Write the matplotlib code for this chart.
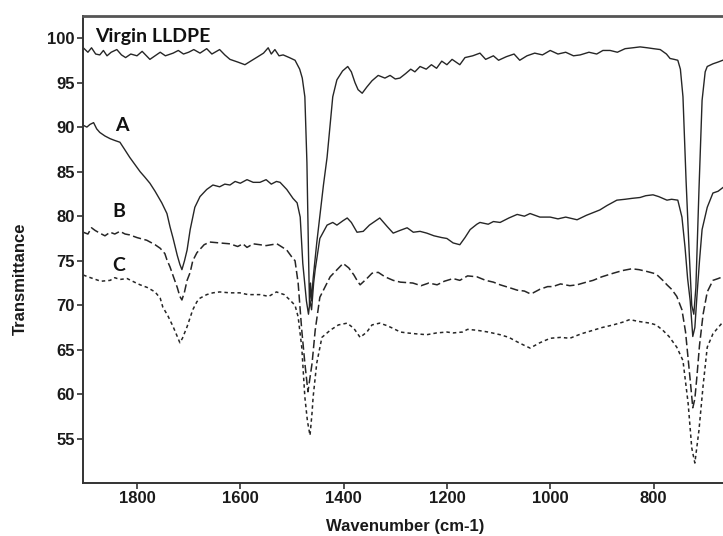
import matplotlib
matplotlib.use('Agg')
import matplotlib.pyplot as plt

# wavenumbers (cm-1) and transmittance
virgin_wn = [1904, 1895, 1888, 1880, 1872, 1865, 1858, 1850, 1839, 1830, 1822, 1812, 1800, 1790,
             1775, 1765, 1755, 1745, 1730, 1720, 1710, 1700, 1690, 1678, 1665, 1655, 1640, 1630,
             1620, 1605, 1591, 1580, 1566, 1555, 1546, 1540, 1533, 1525, 1517, 1505, 1494, 1485,
             1480, 1475, 1471, 1468, 1466, 1464, 1462, 1459, 1452, 1446, 1439, 1432, 1421, 1413,
             1402, 1392, 1385, 1378, 1372, 1364, 1355, 1345, 1333, 1320, 1310, 1300, 1291, 1280,
             1270, 1262, 1252, 1240, 1230, 1220, 1210, 1200, 1190, 1175, 1165, 1150, 1136, 1125,
             1110, 1100, 1085, 1070, 1059, 1045, 1030, 1015, 1000, 985, 970, 955, 942, 925, 910,
             898, 884, 870, 855, 840, 826, 812, 800, 787, 775, 768, 760, 753, 748, 743, 737, 731,
             726, 722, 718, 712, 706, 700, 696, 685, 675, 666]
virgin_t = [98.9, 98.4, 98.9, 98.2, 98.1, 98.6, 98.0, 98.4, 98.7, 98.1, 97.8, 98.2, 98.0, 98.5,
            97.6, 98.0, 98.4, 98.0, 98.3, 98.6, 98.2, 98.4, 98.7, 98.3, 98.8, 98.2, 98.7, 98.1,
            97.6, 97.3, 97.0, 97.4, 97.9, 98.3, 98.9, 98.2, 98.7, 98.0, 98.1, 97.8, 97.5, 96.5,
            95.5, 93.4, 86.0, 76.0, 70.0, 72.5, 70.5, 73.0, 77.0, 80.0, 83.5, 86.6, 93.4, 95.3,
            96.3, 96.8, 96.2, 95.0, 94.2, 93.8, 94.5, 95.2, 95.8, 95.5, 95.8, 95.4, 95.5, 96.0,
            96.5, 96.2, 96.8, 96.5, 97.0, 96.6, 97.4, 97.0, 97.6, 97.0, 97.8, 98.0, 98.3, 97.6,
            98.0, 97.5, 97.9, 98.2, 97.5, 98.0, 98.3, 98.1, 98.6, 98.2, 98.4, 98.0, 98.1, 98.4, 98.2,
            98.6, 98.6, 98.4, 98.8, 98.9, 99.0, 98.9, 98.8, 98.7, 98.2, 97.7, 97.6, 97.5, 96.5, 93.4,
            84.0, 76.0, 70.0, 69.0, 72.0, 83.0, 93.0, 96.2, 96.8, 97.1, 97.3, 97.5]

a_wn = [1904, 1897, 1891, 1884, 1878, 1872, 1862, 1852, 1843, 1833, 1824, 1814, 1804, 1794, 1785,
        1775, 1765, 1752, 1742, 1736, 1730, 1722, 1717, 1713, 1708, 1703, 1697, 1688, 1678, 1665,
        1653, 1640, 1630, 1620, 1610, 1600, 1587, 1575, 1562, 1550, 1540, 1530, 1523, 1510, 1498,
        1490, 1484, 1479, 1472, 1468, 1465, 1462, 1458, 1455, 1446, 1432, 1421, 1413, 1401, 1393,
        1385, 1374, 1362, 1350, 1340, 1330, 1315, 1304, 1291, 1277, 1265, 1252, 1239, 1225, 1210,
        1200, 1188, 1175, 1165, 1155, 1142, 1136, 1120, 1110, 1097, 1080, 1064, 1050, 1039, 1020,
        1000, 985, 970, 948, 930, 917, 904, 890, 871, 855, 842, 826, 815, 801, 790, 774, 765, 753,
        745, 739, 734, 729, 724, 720, 716, 711, 706, 696, 685, 675, 666]
a_t = [90.2, 90.0, 90.3, 90.5, 89.8, 89.4, 89.0, 88.7, 88.5, 88.3, 87.5, 86.6, 85.8, 85.0, 84.4,
       83.7, 82.8, 81.5, 80.3, 78.8, 77.5, 75.6, 74.6, 74.0, 75.0, 76.2, 78.5, 81.0, 82.2, 83.0,
       83.5, 83.3, 83.6, 83.5, 83.9, 83.7, 84.1, 83.8, 83.8, 84.1, 83.6, 83.9, 83.8, 83.0, 82.0,
       81.5, 79.9, 74.7, 70.5, 69.0, 70.5, 69.5, 72.5, 74.0, 77.5, 79.0, 79.3, 79.0, 79.5, 79.8,
       79.3, 78.2, 78.3, 79.0, 79.4, 79.8, 78.8, 78.1, 78.4, 78.7, 78.2, 78.3, 78.1, 77.8, 77.6,
       77.5, 77.0, 76.8, 77.6, 78.5, 79.1, 79.3, 79.1, 79.4, 79.3, 79.8, 80.2, 80.0, 80.3, 79.9,
       79.9, 79.7, 79.9, 79.6, 80.1, 80.4, 80.7, 81.2, 81.8, 81.9, 82.0, 82.1, 82.3, 82.4, 82.2,
       81.8, 81.9, 81.8, 79.9, 76.5, 73.0, 70.5, 66.5, 67.5, 71.0, 75.0, 78.5, 81.0, 82.6, 82.8,
       83.2]

b_wn = [1904, 1895, 1888, 1881, 1872, 1862, 1852, 1843, 1833, 1823, 1814, 1800, 1781, 1765, 1755,
        1746, 1742, 1736, 1730, 1722, 1717, 1713, 1708, 1703, 1697, 1692, 1684, 1670, 1659, 1640,
        1620, 1605, 1595, 1587, 1575, 1562, 1550, 1529, 1510, 1500, 1494, 1488, 1481, 1475, 1469,
        1461, 1455, 1446, 1426, 1401, 1390, 1380, 1374, 1368, 1355, 1345, 1333, 1320, 1304, 1290,
        1266, 1250, 1235, 1219, 1205, 1188, 1175, 1160, 1142, 1125, 1110, 1097, 1080, 1064, 1050,
        1039, 1033, 1020, 1005, 995, 980, 962, 948, 930, 917, 900, 878, 860, 842, 828, 813, 800,
        793, 782, 774, 765, 755, 745, 738, 733, 728, 724, 720, 716, 711, 704, 696, 685, 675, 666]
b_t = [78.2, 78.0, 78.7, 78.4, 78.1, 77.8, 78.2, 78.0, 78.3, 78.0, 77.9, 77.6, 77.3, 76.8, 76.4,
       75.8, 75.1, 74.3, 73.3, 72.0, 71.0, 70.6, 71.5, 72.8, 73.7, 75.0, 75.9, 76.8, 77.1, 77.0,
       76.9, 76.6, 76.9, 76.5, 76.9, 76.8, 76.7, 76.9, 76.2, 75.4, 75.0, 72.5, 67.2, 63.5, 60.3,
       63.5, 67.2, 70.9, 73.2, 74.7, 74.2, 73.4, 72.8, 72.3, 73.0, 73.6, 73.7, 73.2, 72.8, 72.6,
       72.5, 72.2, 72.5, 72.3, 72.7, 73.0, 72.8, 73.3, 73.2, 72.8, 72.6, 72.3, 72.0, 71.7, 71.6,
       71.3, 71.4, 71.8, 72.1, 72.1, 72.4, 72.2, 72.3, 72.6, 72.8, 73.2, 73.6, 73.9, 74.1, 74.0,
       73.8, 73.6, 73.4, 72.8, 72.3, 71.8, 71.0, 69.5, 67.0, 64.0, 61.0, 58.5, 59.5, 62.0, 65.5,
       69.0, 71.5, 72.8, 73.0, 73.2]

c_wn = [1904, 1895, 1885, 1870, 1852, 1843, 1833, 1819, 1805, 1794, 1780, 1765, 1755, 1750, 1740,
        1730, 1722, 1717, 1712, 1703, 1692, 1684, 1678, 1665, 1653, 1640, 1620, 1601, 1585, 1562,
        1545, 1530, 1515, 1504, 1494, 1488, 1481, 1475, 1470, 1465, 1461, 1459, 1452, 1442, 1426,
        1410, 1393, 1380, 1368, 1355, 1345, 1330, 1315, 1304, 1290, 1277, 1260, 1239, 1220, 1200,
        1188, 1170, 1160, 1142, 1120, 1097, 1080, 1064, 1050, 1039, 1020, 1000, 980, 962, 940, 917,
        900, 878, 860, 846, 830, 807, 795, 782, 770, 755, 743, 733, 726, 720, 712, 704, 696, 685,
        675, 666]
c_t = [73.4, 73.2, 73.0, 72.7, 72.8, 73.1, 72.9, 73.0, 72.6, 72.3, 72.0, 71.5, 70.8, 69.8, 68.8,
       67.6, 66.5, 65.8, 66.3, 67.6, 69.5, 70.4, 70.8, 71.2, 71.4, 71.5, 71.4, 71.4, 71.2, 71.2,
       71.0, 71.5, 71.2, 70.6, 70.0, 68.7, 65.3, 59.7, 57.0, 55.4, 58.0, 59.7, 63.5, 66.4, 67.2,
       67.8, 68.0, 67.4, 66.4, 67.0, 67.8, 68.0, 67.7, 67.4, 67.0, 66.9, 66.8, 66.7, 66.9, 67.0,
       66.9, 67.0, 67.3, 67.2, 67.0, 66.7, 66.4, 65.9, 65.5, 65.2, 65.8, 66.3, 66.4, 66.3, 66.8, 67.2,
       67.5, 67.8, 68.1, 68.4, 68.2, 68.0, 67.8, 67.2, 66.5, 65.3, 63.8, 59.0, 54.0, 52.3, 56.0, 61.0,
       65.3, 66.8, 67.5, 68.1]

x_ticks = [1800, 1600, 1400, 1200, 1000, 800]
y_ticks = [55, 60, 65, 70, 75, 80, 85, 90, 95, 100]

plt.rcParams['lines.scale_dashes'] = False
plt.rcParams['font.family'] = ['Liberation Sans', 'DejaVu Sans']

fig = plt.figure(figsize=(7.23, 5.36), dpi=100)
ax = fig.add_axes([0.1148, 0.0989, 0.8852, 0.8713])

ax.plot(virgin_wn, virgin_t, color='#262626', lw=1.0)
ax.plot(a_wn, a_t, color='#262626', lw=1.0)
ax.plot(b_wn, b_t, color='#262626', lw=1.1, dashes=(6, 2.5))
ax.plot(c_wn, c_t, color='#262626', lw=1.1, dashes=(2.5, 2.2))

ax.set_xlim(1904.5, 665.5)
ax.set_ylim(50.06, 102.47)
ax.set_xticks(x_ticks)
ax.set_yticks(y_ticks)
ax.tick_params(labelsize=12, width=1.2, length=4, color='#333333', pad=2)
for lab in ax.get_xticklabels() + ax.get_yticklabels():
    lab.set_fontweight('bold')
    lab.set_color('#1a1a1a')

ax.spines['right'].set_visible(False)
for s in ['left', 'bottom']:
    ax.spines[s].set_linewidth(1.4)
    ax.spines[s].set_color('#333333')
ax.spines['top'].set_linewidth(2.0)
ax.spines['top'].set_color('#555555')

lab_font = dict(family=['Lato', 'DejaVu Sans'], fontweight='bold', fontsize=14, color='#111111')
ax.text(1881, 100.2, 'Virgin LLDPE', ha='left', va='center', **lab_font)
ax.text(1830, 90.2, 'A', ha='center', va='center', **lab_font)
ax.text(1835, 80.5, 'B', ha='center', va='center', **lab_font)
ax.text(1835, 74.5, 'C', ha='center', va='center', **lab_font)

fig.text(0.56, 0.004, 'Wavenumber (cm-1)', ha='center', va='bottom', fontsize=12,
         fontweight='bold', color='#1a1a1a')
fig.text(0.028, 0.48, 'Transmittance', rotation=90, ha='center', va='center', fontsize=12,
         fontweight='bold', color='#1a1a1a')

fig.savefig('out.png', dpi=100)
